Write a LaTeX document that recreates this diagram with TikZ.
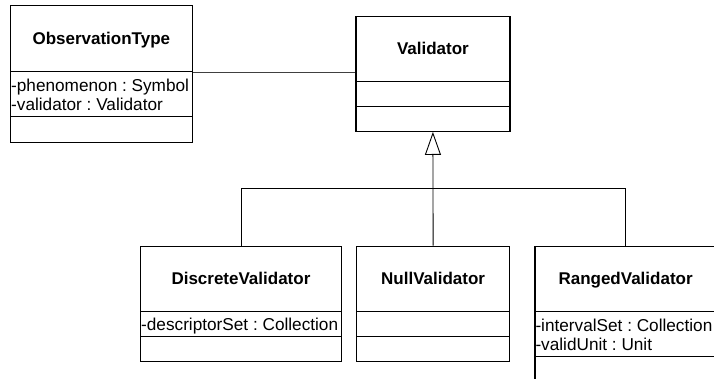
\documentclass[tikz,border=0pt]{standalone}
\usepackage{fontspec}
\setmainfont{Liberation Sans}
\usetikzlibrary{arrows.meta}
\frenchspacing
\begin{document}
\begin{tikzpicture}[x=1pt,y=-1pt,
  box/.style={draw=black, line width=1.2pt, rectangle, inner sep=0pt, anchor=north west},
  title/.style={font=\fontsize{17}{20}\selectfont\bfseries, anchor=base, inner sep=0pt},
  attr/.style={font=\fontsize{17.2}{20}\selectfont, anchor=base west, inner sep=0pt},
  conn/.style={draw=black, line width=0.9pt},
  gen/.style={conn, -{Triangle[open, length=23pt, width=16pt, line width=0.9pt]}},
]
\useasboundingbox (0,0) rectangle (714,379);
\clip (0,0) rectangle (714,379);

% ObservationType
\node[box, minimum width=181.5pt, minimum height=66.3pt] (otn) at (10,5) {};
\node[box, minimum width=181.5pt, minimum height=44.7pt] (ota) at (10,71.3) {};
\node[box, minimum width=181.5pt, minimum height=26pt] (oto) at (10,116) {};
\node[title] (ott) at ([yshift=-6pt]otn.center) {ObservationType};
\node[attr] (ota1) at ([xshift=1pt,yshift=-20pt]ota.north west) {-phenomenon : Symbol};
\node[attr] (ota2) at ([xshift=1pt,yshift=-39.7pt]ota.north west) {-validator : Validator};

% Validator
\node[box, minimum width=154pt, minimum height=65pt] (vn) at (355.3,15.7) {};
\node[box, minimum width=154pt, minimum height=25.6pt] (va) at (355.3,80.7) {};
\node[box, minimum width=154pt, minimum height=24.4pt] (vo) at (355.3,106.3) {};
\node[title] (vt) at ([yshift=-6pt]vn.center) {Validator};

% DiscreteValidator
\node[box, minimum width=200.7pt, minimum height=65.3pt] (dvn) at (140,245.7) {};
\node[box, minimum width=200.7pt, minimum height=25pt] (dva) at (140,311) {};
\node[box, minimum width=200.7pt, minimum height=25pt] (dvo) at (140,336) {};
\node[title] (dvt) at ([yshift=-6pt]dvn.center) {DiscreteValidator};
\node[attr] (dva1) at ([xshift=1pt,yshift=-19.5pt]dva.north west) {-descriptorSet : Collection};

% NullValidator
\node[box, minimum width=153pt, minimum height=65.3pt] (nvn) at (356,245.7) {};
\node[box, minimum width=153pt, minimum height=25pt] (nva) at (356,311) {};
\node[box, minimum width=153pt, minimum height=25pt] (nvo) at (356,336) {};
\node[title] (nvt) at ([yshift=-6pt]nvn.center) {NullValidator};

% RangedValidator
\node[box, minimum width=181.4pt, minimum height=65.5pt] (rvn) at (534.3,245.5) {};
\node[box, minimum width=181.4pt, minimum height=45pt] (rva) at (534.3,311) {};
\node[box, minimum width=181.4pt, minimum height=40pt] (rvo) at (534.3,356) {};
\node[title] (rvt) at ([yshift=-6pt]rvn.center) {RangedValidator};
\node[attr] (rva1) at ([xshift=1pt,yshift=-20pt]rva.north west) {-intervalSet : Collection};
\node[attr] (rva2) at ([xshift=1pt,yshift=-39.5pt]rva.north west) {-validUnit : Unit};

% association
\draw[conn, draw=black!75] ([yshift=-1pt]ota.north east) -- ([yshift=-1pt]ota.north east -| vn.west);

% generalization
\coordinate (j) at (nvn.north |- 0,188.3);
\draw[gen] (nvn.north) -- (vo.south);
\draw[conn] (dvn.north) |- (j) -| (rvn.north);
\end{tikzpicture}
\end{document}
